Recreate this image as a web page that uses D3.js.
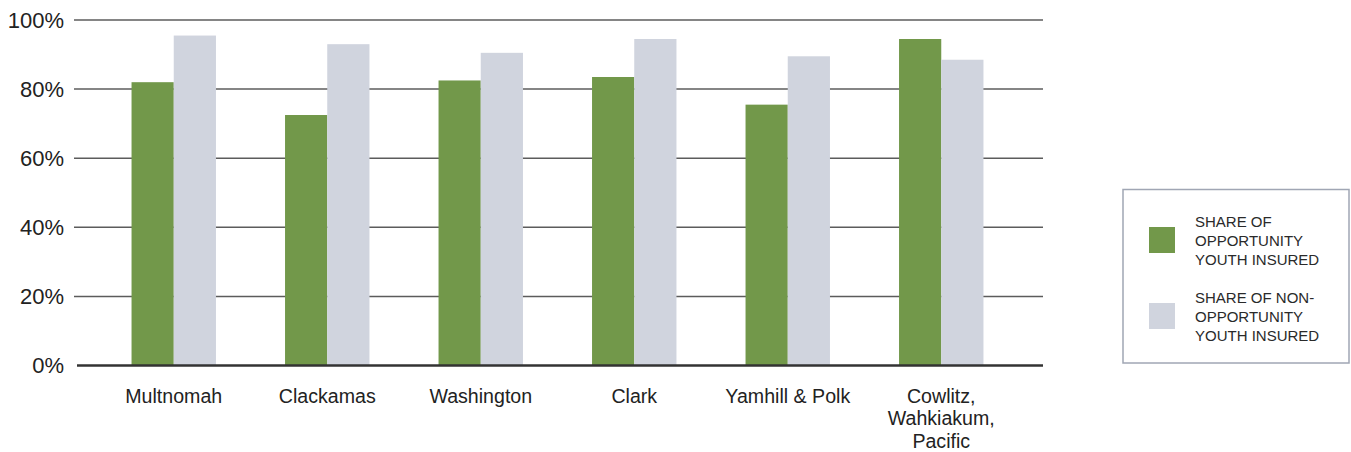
<!DOCTYPE html>
<html>
<head>
<meta charset="utf-8">
<script src="https://cdn.jsdelivr.net/npm/d3@7"></script>
<style>
  html, body { margin: 0; padding: 0; background: #fff; }
  svg { display: block; font-family: "Liberation Sans", Arial, sans-serif; }
</style>
</head>
<body>
<svg id="chart" width="1351" height="452"></svg>
<script>
// Counties (multi-line labels separated by "\n")
const categories = ["Multnomah", "Clackamas", "Washington", "Clark", "Yamhill & Polk", "Cowlitz,\nWahkiakum,\nPacific"];
// Share insured, percent
const opportunityYouth = [82, 72.5, 82.5, 83.5, 75.5, 94.5];
const nonOpportunityYouth = [95.5, 93, 90.5, 94.5, 89.5, 88.5];
const seriesKeys = ["opp", "nonOpp"];
const seriesColors = ["#72984a", "#d0d4de"];
const legendLabels = [
  ["SHARE OF", "OPPORTUNITY", "YOUTH INSURED"],
  ["SHARE OF NON-", "OPPORTUNITY", "YOUTH INSURED"]
];
const yTicks = [0, 20, 40, 60, 80, 100];

const svg = d3.select("#chart");

const y = d3.scaleLinear().domain([0, 100]).range([365.5, 20]);
const x0 = d3.scaleBand().domain(categories).range([97, 1018])
  .paddingInner(0.45).paddingOuter(0.225);
const x1 = d3.scaleBand().domain(seriesKeys).range([0, x0.bandwidth()]);

const rows = categories.map((c, i) => ({
  cat: c,
  vals: [
    { key: "opp", v: opportunityYouth[i] },
    { key: "nonOpp", v: nonOpportunityYouth[i] }
  ]
}));

// Horizontal gridlines with percentage labels
const grid = svg.append("g");
grid.selectAll("line")
  .data(yTicks.filter(t => t > 0))
  .join("line")
  .attr("x1", 74).attr("x2", 1043)
  .attr("y1", d => y(d)).attr("y2", d => y(d))
  .attr("stroke", "#5c5c5c").attr("stroke-width", 1.5);

svg.append("g").selectAll("text")
  .data(yTicks)
  .join("text")
  .attr("x", 64)
  .attr("y", d => y(d))
  .attr("dy", "0.36em")
  .attr("text-anchor", "end")
  .attr("font-size", 22)
  .attr("fill", "#222")
  .text(d => d + "%");

// Grouped bars
const groups = svg.append("g").selectAll("g")
  .data(rows)
  .join("g")
  .attr("transform", d => `translate(${x0(d.cat)},0)`);

groups.selectAll("rect")
  .data(d => d.vals)
  .join("rect")
  .attr("x", d => x1(d.key))
  .attr("width", x1.bandwidth())
  .attr("y", d => y(d.v))
  .attr("height", d => y(0) - y(d.v))
  .attr("fill", d => seriesColors[seriesKeys.indexOf(d.key)]);

// Baseline
svg.append("line")
  .attr("x1", 77).attr("x2", 1043)
  .attr("y1", y(0)).attr("y2", y(0))
  .attr("stroke", "#333").attr("stroke-width", 2.5);

// Category labels
const xAxis = svg.append("g")
  .attr("transform", `translate(0,${y(0)})`)
  .call(d3.axisBottom(x0).tickSize(0).tickPadding(0));
xAxis.select(".domain").remove();
xAxis.selectAll(".tick text").each(function(d) {
  const t = d3.select(this);
  const lines = d.split("\n");
  t.text(null)
    .attr("y", 0)
    .attr("dy", null)
    .attr("font-size", 19.6)
    .attr("font-family", "'Liberation Sans', Arial, sans-serif")
    .attr("fill", "#222");
  lines.forEach((ln, i) => {
    t.append("tspan")
      .attr("x", 0)
      .attr("y", 37 + i * 22.5)
      .text(ln);
  });
});

// Legend
const legend = svg.append("g");
legend.append("rect")
  .attr("x", 1123).attr("y", 189.5)
  .attr("width", 226).attr("height", 173.5)
  .attr("fill", "#fff")
  .attr("stroke", "#a0a6b4").attr("stroke-width", 1.5);

const legendItems = legend.selectAll("g.item")
  .data(seriesKeys)
  .join("g")
  .attr("class", "item")
  .attr("transform", (d, i) => `translate(0,${i * 76})`);

legendItems.append("rect")
  .attr("x", 1149).attr("y", 227)
  .attr("width", 26).attr("height", 26)
  .attr("fill", (d, i) => seriesColors[i]);

legendItems.append("text")
  .attr("font-size", 15)
  .attr("fill", "#2a2a2a")
  .each(function(d, i) {
    const t = d3.select(this);
    legendLabels[i].forEach((ln, j) => {
      t.append("tspan")
        .attr("x", 1195)
        .attr("y", 226.5 + j * 19)
        .text(ln);
    });
  });
</script>
</body>
</html>
